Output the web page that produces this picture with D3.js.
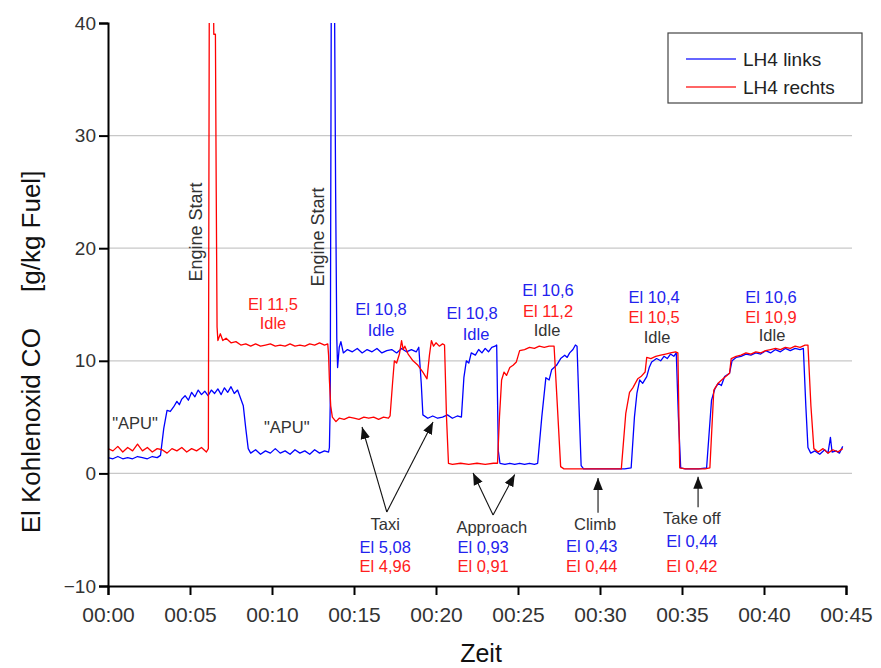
<!DOCTYPE html>
<html>
<head>
<meta charset="utf-8">
<script src="https://cdn.jsdelivr.net/npm/d3@7"></script>
<style>
  body { margin: 0; background: #fff; }
  svg { font-family: Arial, "Liberation Sans", sans-serif; }
</style>
</head>
<body>
<script>
// time in minutes, El CO in g/kg fuel
const lh4Links = [
  [0,1.4],[0.3,1.3],[0.6,1.5],[0.9,1.3],[1.2,1.4],[1.5,1.3],[1.8,1.5],[2.1,1.4],[2.4,1.3],[2.7,1.5],[3.0,1.4],[3.2,1.6],
  [3.4,4.0],[3.6,5.6],[3.8,5.5],[4.0,5.9],[4.2,6.4],[4.35,6.1],[4.5,6.6],[4.7,6.9],[4.9,6.5],[5.1,7.2],[5.3,6.8],[5.5,7.4],
  [5.7,7.0],[5.9,7.3],[6.1,6.9],[6.3,7.4],[6.5,7.1],[6.7,7.5],[6.9,7.0],[7.1,7.6],[7.3,7.2],[7.5,7.7],[7.7,7.1],[7.9,7.4],
  [8.1,6.6],[8.25,6.0],[8.4,4.0],[8.55,2.2],[8.7,1.8],[9.0,2.1],[9.3,1.7],[9.6,2.0],[9.9,1.8],[10.2,2.2],[10.5,1.8],[10.8,2.0],
  [11.1,1.7],[11.4,2.1],[11.7,1.8],[12.0,2.0],[12.3,1.7],[12.6,2.1],[12.9,1.8],[13.2,2.0],[13.45,1.9],[13.5,2.3],
  [13.55,6],[13.62,45],[13.8,45],[13.88,25],[13.95,12],[14.0,9.4],[14.1,11.2],[14.2,11.7],[14.35,10.7],[14.6,11.0],
  [14.9,10.8],[15.2,11.1],[15.5,10.7],[15.8,11.0],[16.1,10.8],[16.4,11.1],[16.7,10.7],[17.0,10.9],[17.3,11.0],[17.6,10.7],
  [17.9,11.1],[18.2,10.8],[18.5,11.0],[18.8,10.8],[18.95,11.2],[19.1,8],[19.2,5.2],[19.5,4.9],[19.8,5.1],[20.1,4.9],
  [20.4,5.0],[20.7,5.2],[21.0,4.9],[21.3,5.1],[21.55,5.0],[21.7,8.5],[21.85,10.0],[22.0,9.8],[22.15,10.7],[22.4,10.5],
  [22.6,11.0],[22.8,10.7],[23.0,11.1],[23.2,10.8],[23.4,11.2],[23.6,11.3],[23.7,11.4],[23.8,2.0],[23.9,0.9],[24.2,0.8],
  [24.5,0.9],[24.8,0.8],[25.1,0.9],[25.4,0.8],[25.7,0.9],[26.0,0.8],[26.2,0.9],[26.45,5.0],[26.7,8.5],[26.9,8.3],
  [27.05,9.2],[27.35,9.6],[27.6,10.2],[27.85,10.5],[28.0,10.3],[28.15,10.7],[28.35,11.0],[28.5,11.4],[28.6,11.3],
  [28.72,6],[28.85,0.7],[29.0,0.4],[29.5,0.4],[30.0,0.4],[30.5,0.4],[31.0,0.4],[31.5,0.4],[31.9,0.5],[32.1,5.0],
  [32.25,7.1],[32.42,8.3],[32.6,8.0],[32.85,8.6],[33.0,9.4],[33.15,9.9],[33.45,10.2],[33.7,10.0],[33.9,10.4],[34.1,10.2],
  [34.3,10.6],[34.5,10.4],[34.65,10.7],[34.78,5],[34.92,0.5],[35.2,0.4],[35.6,0.4],[36.0,0.4],[36.5,0.5],[36.8,6.5],
  [37.0,7.5],[37.2,8.0],[37.4,7.8],[37.6,8.6],[37.9,8.9],[38.05,10.0],[38.3,10.3],[38.6,10.4],[38.9,10.6],[39.2,10.5],
  [39.5,10.7],[39.8,10.6],[40.1,10.9],[40.4,10.7],[40.7,11.0],[41.0,10.8],[41.3,11.1],[41.6,10.9],[41.9,11.1],[42.2,11.0],
  [42.4,11.1],[42.55,6],[42.68,2.3],[42.85,1.8],[43.1,2.0],[43.4,1.7],[43.7,2.1],[43.9,1.8],[44.05,3.2],[44.15,1.9],
  [44.4,2.0],[44.6,1.8],[44.8,2.4]
];

const lh4Rechts = [
  [0,2.2],[0.3,2.0],[0.6,2.4],[0.9,1.9],[1.2,2.3],[1.5,2.0],[1.8,2.6],[2.1,2.0],[2.4,2.3],[2.7,1.9],[3.0,2.2],[3.3,2.1],
  [3.6,1.8],[3.9,2.2],[4.2,2.0],[4.5,2.3],[4.8,1.9],[5.1,2.2],[5.4,2.0],[5.7,2.3],[6.0,1.9],[6.12,2.2],[6.18,45],[6.42,45],
  [6.45,39],[6.55,39],[6.6,25],[6.65,13],[6.7,11.8],[6.85,12.4],[7.0,11.8],[7.2,12.0],[7.5,11.6],[7.8,11.7],[8.1,11.4],
  [8.4,11.5],[8.7,11.3],[9.0,11.5],[9.3,11.3],[9.6,11.4],[9.9,11.5],[10.2,11.3],[10.5,11.4],[10.8,11.3],[11.1,11.5],
  [11.4,11.3],[11.7,11.4],[12.0,11.3],[12.3,11.5],[12.6,11.4],[12.9,11.6],[13.2,11.4],[13.4,11.5],[13.45,10.5],[13.5,8.3],
  [13.58,6],[13.68,5.0],[13.9,4.6],[14.1,4.9],[14.4,4.8],[14.7,5.0],[15.0,4.9],[15.3,4.8],[15.6,5.0],[15.9,4.9],[16.2,5.0],
  [16.5,4.8],[16.8,5.0],[17.1,4.9],[17.2,5.1],[17.35,8],[17.46,10.0],[17.6,9.8],[17.77,10.6],[17.9,11.8],[18.0,11.0],
  [18.1,11.3],[18.3,10.6],[18.6,10.0],[18.9,9.6],[19.2,9.0],[19.45,8.4],[19.6,10.5],[19.72,11.8],[19.85,11.3],[20.0,11.6],
  [20.2,11.3],[20.4,11.5],[20.52,11.4],[20.64,5],[20.76,0.9],[21.0,0.8],[21.5,0.9],[22.0,0.8],[22.5,0.9],[23.0,0.8],
  [23.5,0.9],[23.75,0.9],[23.87,5],[24.0,8.3],[24.15,9.0],[24.3,8.7],[24.5,9.4],[24.7,9.6],[24.9,9.9],[25.1,10.9],
  [25.4,11.0],[25.7,11.2],[26.0,11.1],[26.3,11.3],[26.6,11.2],[26.9,11.3],[27.2,11.3],[27.4,6],[27.6,0.6],[27.8,0.4],
  [28.5,0.4],[29.5,0.4],[30.5,0.4],[31.3,0.4],[31.57,5.3],[31.8,7.2],[32.0,7.6],[32.3,8.4],[32.5,8.6],[32.75,9.0],
  [32.85,10.3],[33.1,10.2],[33.4,10.4],[33.7,10.5],[34.0,10.6],[34.3,10.7],[34.6,10.8],[34.75,10.7],[34.86,0.5],[35.2,0.4],
  [35.8,0.4],[36.4,0.4],[36.7,0.5],[36.94,7.4],[37.2,8.0],[37.5,8.4],[37.9,8.9],[38.0,10.2],[38.3,10.4],[38.6,10.5],
  [38.9,10.7],[39.2,10.6],[39.5,10.8],[39.8,10.7],[40.1,10.9],[40.4,11.0],[40.7,11.1],[41.0,11.0],[41.3,11.2],[41.6,11.1],
  [41.9,11.3],[42.2,11.2],[42.5,11.4],[42.68,11.4],[42.86,6],[43.04,2.2],[43.3,1.9],[43.6,2.2],[43.9,1.8],[44.2,2.1],
  [44.5,1.9],[44.8,2.2]
];

const seriesNames = ["LH4 links", "LH4 rechts"];
const seriesColors = ["#0000ff", "#ff0000"];
const xTicks = [0, 5, 10, 15, 20, 25, 30, 35, 40, 45];
const yTicks = [-10, 0, 10, 20, 30, 40];
const gridValues = [0, 10, 20, 30];

// annotations: [time, value (baseline), text, color]
const labels = [
  [10.06, 14.5, "El 11,5", "red"], [10.06, 12.8, "Idle", "red"],
  [16.65, 14.07, "El 10,8", "blue"], [16.65, 12.2, "Idle", "blue"],
  [22.2, 13.7, "El 10,8", "blue"], [22.44, 11.85, "Idle", "blue"],
  [26.83, 15.75, "El 10,6", "blue"], [26.83, 13.9, "El 11,2", "red"], [26.77, 12.2, "Idle", "gray"],
  [33.3, 15.1, "El 10,4", "blue"], [33.3, 13.35, "El 10,5", "red"], [33.48, 11.6, "Idle", "gray"],
  [40.43, 15.1, "El 10,6", "blue"], [40.43, 13.35, "El 10,9", "red"], [40.49, 11.75, "Idle", "gray"],
  [1.65, 3.94, "\"APU\"", "gray"], [10.9, 3.6, "\"APU\"", "gray"],
  [16.9, -5.0, "Taxi", "gray"], [16.9, -7.1, "El 5,08", "blue"], [16.9, -8.75, "El 4,96", "red"],
  [23.4, -5.3, "Approach", "gray"], [22.87, -7.05, "El 0,93", "blue"], [22.87, -8.75, "El 0,91", "red"],
  [29.7, -5.0, "Climb", "gray"], [29.5, -7.0, "El 0,43", "blue"], [29.5, -8.75, "El 0,44", "red"],
  [35.6, -4.5, "Take off", "gray"], [35.6, -6.5, "El 0,44", "blue"], [35.6, -8.75, "El 0,42", "red"]
];
// rotated "Engine Start": [baseline time, centre value]
const engineStart = [[5.73, 21.44], [13.17, 21.0]];

// arrows: [fromT, fromV, toT, toV]
const arrows = [
  [17.0, -3.43, 15.49, 4.12], [17.0, -3.43, 19.82, 4.56],
  [23.48, -3.7, 22.26, 0.04], [23.48, -3.7, 24.8, -0.1],
  [29.88, -3.5, 29.88, -0.4], [35.98, -3.0, 35.98, -0.3]
];

const colorMap = { red: "#ff2020", blue: "#2222ee", gray: "#333" };

const W = 881, H = 668;
const svg = d3.select("body").append("svg").attr("width", W).attr("height", H);

const x = d3.scaleLinear().domain([0, 45]).range([108, 846]);
const y = d3.scaleLinear().domain([-10, 40]).range([586, 23]);

const fmt = d => "00:" + String(d).padStart(2, "0");

// grid
svg.append("g").selectAll("line").data(gridValues).join("line")
  .attr("x1", 108).attr("x2", 852)
  .attr("y1", d => y(d)).attr("y2", d => y(d))
  .attr("stroke", "#c8c8c8").attr("stroke-width", 1.2);

// clip
svg.append("clipPath").attr("id", "plot")
  .append("rect").attr("x", 108).attr("y", y(40)).attr("width", 750).attr("height", y(-10) - y(40));

const line = d3.line().x(d => x(d[0])).y(d => y(d[1]));
[lh4Links, lh4Rechts].forEach((s, i) => {
  svg.append("path").datum(s)
    .attr("clip-path", "url(#plot)")
    .attr("fill", "none").attr("stroke", seriesColors[i]).attr("stroke-width", 1.3)
    .attr("stroke-linejoin", "round")
    .attr("d", line);
});

// axes
const xAxisG = svg.append("g").attr("transform", `translate(0,${y(-10)})`);
xAxisG.call(d3.axisBottom(x).tickValues(d3.range(2.5, 45, 5)).tickSize(5).tickFormat(""));
xAxisG.call(d3.axisBottom(x).tickValues(xTicks).tickSize(9).tickPadding(12).tickFormat(fmt));
xAxisG.selectAll(".domain").attr("stroke-width", 2);
xAxisG.selectAll("line").attr("stroke-width", 2);
xAxisG.selectAll("text").attr("font-size", 21).attr("fill", "#333");

const yAxisG = svg.append("g").attr("transform", `translate(108,0)`);
yAxisG.call(d3.axisLeft(y).tickValues(d3.range(-5, 40, 10)).tickSize(5).tickFormat(""));
yAxisG.call(d3.axisLeft(y).tickValues(yTicks).tickSize(9).tickPadding(3));
yAxisG.selectAll(".domain").attr("stroke-width", 2);
yAxisG.selectAll("line").attr("stroke-width", 2);
yAxisG.selectAll("text").attr("font-size", 19).attr("fill", "#333");

// axis titles
svg.append("text").attr("x", 481).attr("y", 662).attr("text-anchor", "middle")
  .attr("font-size", 25).attr("fill", "#111").text("Zeit");
svg.append("text").attr("transform", "translate(40,352) rotate(-90)").attr("text-anchor", "middle")
  .attr("font-size", 26).attr("fill", "#111").attr("xml:space", "preserve")
  .text("El Kohlenoxid CO     [g/kg Fuel]");

// Engine Start labels
engineStart.forEach(d => {
  svg.append("text").attr("transform", `translate(${x(d[0])},${y(d[1])}) rotate(-90)`)
    .attr("text-anchor", "middle").attr("font-size", 18).attr("fill", "#333").text("Engine Start");
});

// text annotations
svg.append("g").selectAll("text").data(labels).join("text")
  .attr("x", d => x(d[0])).attr("y", d => y(d[1]))
  .attr("text-anchor", "middle").attr("font-size", 16.5)
  .attr("fill", d => colorMap[d[3]])
  .text(d => d[2]);

// arrows
svg.append("defs").append("marker").attr("id", "head")
  .attr("viewBox", "0 0 10 10").attr("refX", 10).attr("refY", 5)
  .attr("markerWidth", 12).attr("markerHeight", 12).attr("markerUnits", "userSpaceOnUse")
  .attr("orient", "auto")
  .append("path").attr("d", "M0,1 L10,5 L0,9 Z").attr("fill", "#111");
svg.append("g").selectAll("line").data(arrows).join("line")
  .attr("x1", d => x(d[0])).attr("y1", d => y(d[1]))
  .attr("x2", d => x(d[2])).attr("y2", d => y(d[3]))
  .attr("stroke", "#111").attr("stroke-width", 1.1)
  .attr("marker-end", "url(#head)");

// legend
const lg = svg.append("g").attr("transform", "translate(668,33)");
lg.append("rect").attr("width", 194).attr("height", 70)
  .attr("fill", "#fff").attr("stroke", "#444").attr("stroke-width", 1.2);
seriesNames.forEach((n, i) => {
  const yy = 26 + i * 28;
  lg.append("line").attr("x1", 18).attr("x2", 68).attr("y1", yy).attr("y2", yy)
    .attr("stroke", seriesColors[i]).attr("stroke-width", 1.5).attr("opacity", 0.8);
  lg.append("text").attr("x", 75).attr("y", yy + 7).attr("font-size", 19).attr("fill", "#222").text(n);
});
</script>
</body>
</html>
